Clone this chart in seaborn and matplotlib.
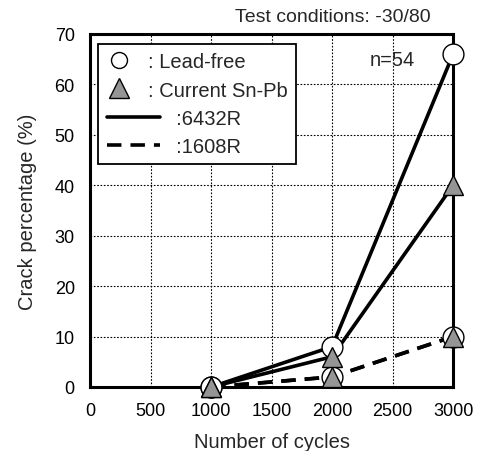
import pandas as pd
import matplotlib
matplotlib.use("Agg")
import matplotlib.pyplot as plt
import seaborn as sns
from matplotlib.lines import Line2D
from matplotlib.legend_handler import HandlerLine2D

# Data
cycles = [1000, 2000, 3000]
leadfree_6432r = [0, 8, 66]
snpb_6432r = [0, 6, 40]
leadfree_1608r = [0, 2, 10]
snpb_1608r = [0, 2, 10]

x_ticks = [0, 500, 1000, 1500, 2000, 2500, 3000]
y_ticks = [0, 10, 20, 30, 40, 50, 60, 70]

sns.set_theme(style="white")
plt.rcParams["font.family"] = ["Liberation Sans", "DejaVu Sans"]

series = [
    ("Lead-free", "6432R", leadfree_6432r),
    ("Lead-free", "1608R", leadfree_1608r),
    ("Current Sn-Pb", "6432R", snpb_6432r),
    ("Current Sn-Pb", "1608R", snpb_1608r),
]
rows = []
for solder, size, vals in series:
    for c, v in zip(cycles, vals):
        rows.append({"cycles": c, "crack": v, "solder": solder, "size": size})
df = pd.DataFrame(rows)

fig = plt.figure(figsize=(4.82, 4.52), dpi=100)
ax = fig.add_axes([0.187, 0.1416, 0.753, 0.781])

marker_style = {
    "Lead-free": dict(marker="o", markerfacecolor="white", markersize=15),
    "Current Sn-Pb": dict(marker="^", markerfacecolor="#959595", markersize=15),
}
dash_style = {"6432R": "-", "1608R": (0, (4, 2.5))}

# lines first, then circles, then triangles on top
for solder, size, _ in series:
    d = df[(df["solder"] == solder) & (df["size"] == size)]
    sns.lineplot(data=d, x="cycles", y="crack", ax=ax, color="black",
                 linewidth=2.6, linestyle=dash_style[size], zorder=3,
                 legend=False)
for solder, size, _ in series:
    d = df[(df["solder"] == solder) & (df["size"] == size)]
    ax.plot(d["cycles"], d["crack"], linestyle="none", color="black",
            markeredgecolor="black", markeredgewidth=1.0, zorder=4,
            clip_on=False, **marker_style[solder])

ax.set_xlim(0, 3000)
ax.set_ylim(0, 70)
ax.set_xticks(x_ticks)
ax.set_yticks(y_ticks)
ax.tick_params(axis="both", labelsize=13, length=0, pad=11, colors="black")
ax.grid(True, color="black", linestyle=(0, (1.5, 1.5)), linewidth=0.8)
for sp in ax.spines.values():
    sp.set_visible(True)
    sp.set_color("black")
    sp.set_linewidth(2.2)
    sp.set_zorder(2.5)

ax.set_xlabel("Number of cycles", fontsize=14.5, labelpad=9)
ax.set_ylabel("Crack percentage (%)", fontsize=14.5, labelpad=13)
fig.text(431 / 482, 1 - 17 / 452, "Test conditions: -30/80", fontsize=14,
         ha="right", va="center")
ax.text(2500, 65, "n=54", fontsize=14.5, ha="center", va="center")


class LongLine(HandlerLine2D):
    # line handles reach further right than the marker handles
    def __init__(self, extra, **kw):
        super().__init__(**kw)
        self.extra = extra

    def create_artists(self, legend, orig_handle, xdescent, ydescent, width,
                       height, fontsize, trans):
        return super().create_artists(legend, orig_handle, xdescent, ydescent,
                                      width + self.extra, height, fontsize,
                                      trans)


h_circle = Line2D([], [], linestyle="none", marker="o", markersize=11.5,
                  markerfacecolor="white", markeredgecolor="black")
h_tri = Line2D([], [], linestyle="none", marker="^", markersize=15,
               markerfacecolor="#959595", markeredgecolor="black")
h_solid = Line2D([], [], color="black", linewidth=2.6)
h_dash = Line2D([], [], color="black", linewidth=2.6, linestyle=(0, (4, 2.5)))
handles = [h_circle, h_tri, h_solid, h_dash]
labels = [": Lead-free", ": Current Sn-Pb", "     :6432R", "     :1608R"]
leg = ax.legend(handles, labels, loc="upper left",
                bbox_to_anchor=((98 - 90) / 363, (388 - 45) / 353),
                fontsize=14.5, frameon=True, fancybox=False, framealpha=1,
                edgecolor="black", handlelength=1.25, handletextpad=0.8,
                labelspacing=0.45, borderpad=0.42, borderaxespad=0,
                handler_map={h_solid: LongLine(20), h_dash: LongLine(20)})
leg.get_frame().set_linewidth(1.3)
leg.set_zorder(5)

fig.savefig("out.png", dpi=100)
